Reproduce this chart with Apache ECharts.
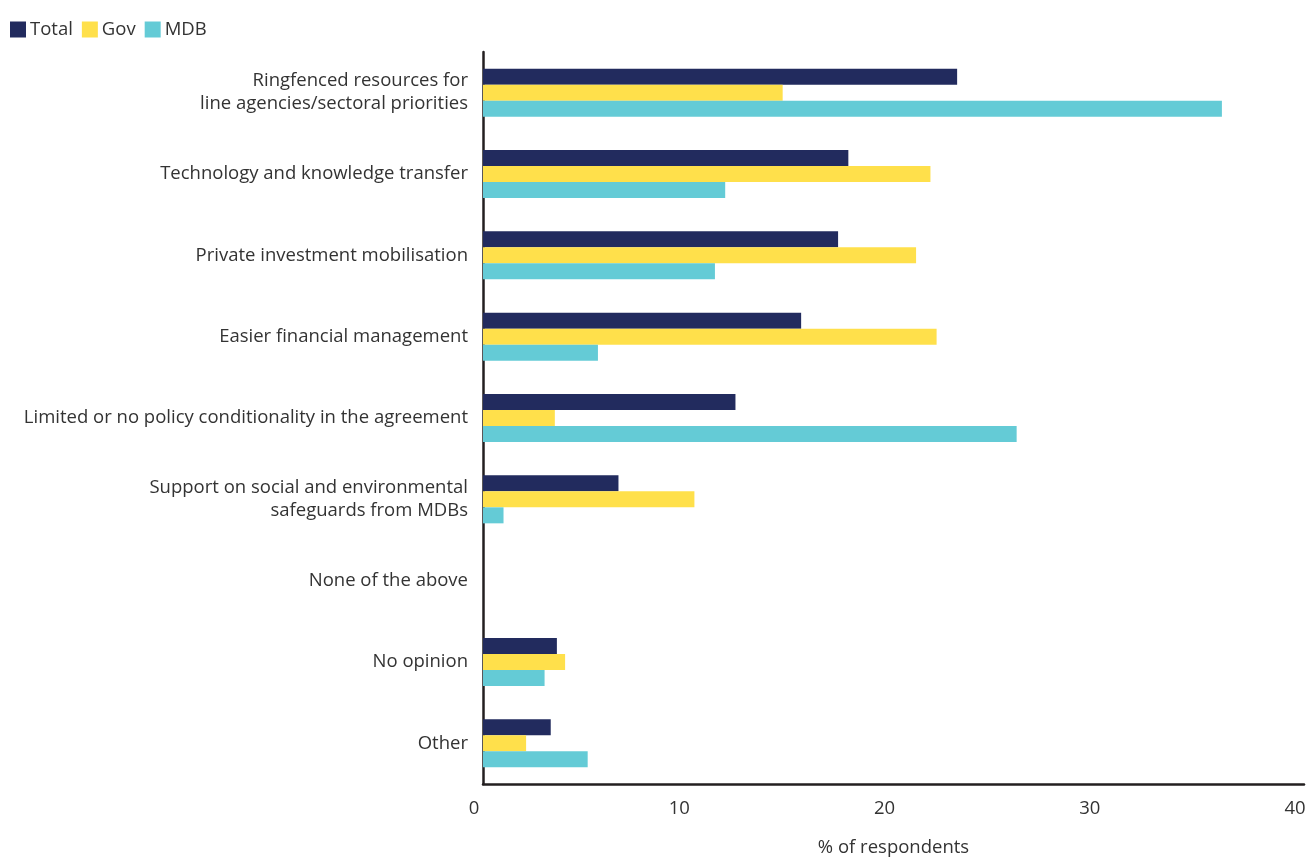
<!DOCTYPE html>
<html>
<head>
<meta charset="utf-8">
<script src="https://cdn.jsdelivr.net/npm/echarts@6/dist/echarts.min.js"></script>
<style>html,body{margin:0;padding:0;background:#fff}#c{width:1310px;height:858px}</style>
</head>
<body>
<div id="c"></div>
<script>
const categories = [
  'Ringfenced resources for\nline agencies/sectoral priorities',
  'Technology and knowledge transfer',
  'Private investment mobilisation',
  'Easier financial management',
  'Limited or no policy conditionality in the agreement',
  'Support on social and environmental\nsafeguards from MDBs',
  'None of the above',
  'No opinion',
  'Other'
];
const totalValues = [23.1, 17.8, 17.3, 15.5, 12.3, 6.6, 0, 3.6, 3.3];
const govValues   = [14.6, 21.8, 21.1, 22.1, 3.5, 10.3, 0, 4.0, 2.1];
const mdbValues   = [36.0, 11.8, 11.3, 5.6, 26.0, 1.0, 0, 3.0, 5.1];
const xTicks = [0, 10, 20, 30, 40];

const font = '"Open Sans", sans-serif';
const fs = 18.5;
const chart = echarts.init(document.getElementById('c'));
chart.setOption({
  animation: false,
  textStyle: { fontFamily: font },
  legend: {
    left: 5, top: 15,
    itemWidth: 16, itemHeight: 16, itemGap: 9,
    icon: 'rect',
    textStyle: { fontSize: fs, color: '#333', fontFamily: font, padding: [0, 0, 0, -1] },
    data: ['Total', 'Gov', 'MDB']
  },
  grid: { left: 483, right: 6, top: 52, bottom: 74, containLabel: false, outerBoundsMode: 'none' },
  xAxis: {
    type: 'value', min: xTicks[0], max: xTicks[xTicks.length - 1], interval: 10,
    name: '% of respondents', nameLocation: 'middle', nameGap: 54,
    nameTextStyle: { fontSize: fs, color: '#333', fontFamily: font },
    axisLine: { show: true, lineStyle: { color: '#231f20', width: 2.5 } },
    axisTick: { show: false },
    splitLine: { show: false },
    axisLabel: { fontSize: fs, color: '#333', margin: 15, padding: [0, 18, 0, 0], fontFamily: font }
  },
  yAxis: {
    type: 'category', data: categories, inverse: true,
    axisLine: { show: true, lineStyle: { color: '#231f20', width: 2.5 } },
    axisTick: { show: false },
    axisLabel: { fontSize: fs, color: '#333', margin: 15, lineHeight: 23, align: 'right', fontFamily: font }
  },
  series: [
    { name: 'Total', type: 'bar', data: totalValues, barWidth: 16, barGap: '0%', itemStyle: { color: '#222b5e' } },
    { name: 'Gov', type: 'bar', data: govValues, barWidth: 16, barGap: '0%', itemStyle: { color: '#ffe04b' } },
    { name: 'MDB', type: 'bar', data: mdbValues, barWidth: 16, barGap: '0%', itemStyle: { color: '#64cbd6' } }
  ]
});
</script>
</body>
</html>
